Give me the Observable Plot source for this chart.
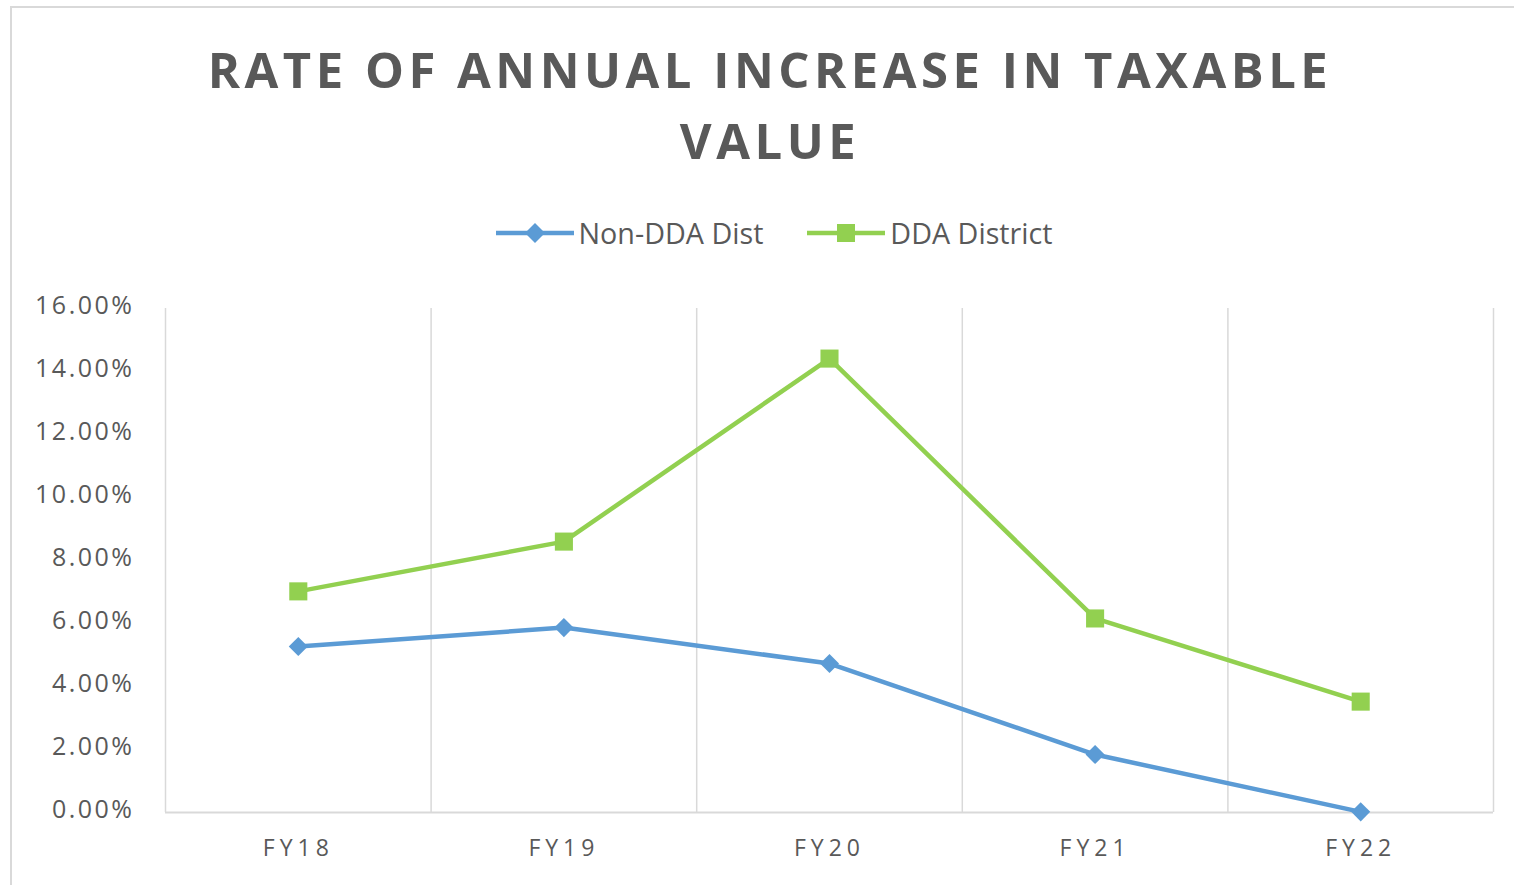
<!DOCTYPE html>
<html>
<head>
<meta charset="utf-8">
<script src="https://cdn.jsdelivr.net/npm/d3@7"></script>
<script src="https://cdn.jsdelivr.net/npm/@observablehq/plot@0.6"></script>
<style>
  html, body { margin: 0; padding: 0; background: #fff; }
  #wrap { position: relative; width: 1514px; height: 885px; overflow: hidden; background: #fff; font-family: "Open Sans", sans-serif; }
  #frame { position: absolute; left: 10px; top: 6px; width: 1520px; height: 900px; border: 2px solid #d9d9d9; box-sizing: border-box; }
  #title { position: absolute; left: 0; top: 34px; width: 1540px; text-align: center; font-weight: 700; font-size: 49px; line-height: 71px; letter-spacing: 4.5px; color: #595959; }
  #legend { position: absolute; top: 213px; left: 17px; width: 1514px; display: flex; justify-content: center; font-size: 28.7px; color: #595959; }
  .item { display: flex; align-items: center; margin: 0 22px; }
  .item svg { margin-right: 5px; }
  #chart { position: absolute; left: 0; top: 280px; }
  #chart svg { overflow: visible; }
  [aria-label="x-axis tick label"] text { letter-spacing: 5px; }
  [aria-label="y-axis tick label"] text { letter-spacing: 2.5px; }
</style>
</head>
<body>
<div id="wrap">
  <div id="frame"></div>
  <div id="title">RATE OF ANNUAL INCREASE IN TAXABLE<br>VALUE</div>
  <div id="legend"></div>
  <div id="chart"></div>
</div>
<script>
const categories = ["FY18", "FY19", "FY20", "FY21", "FY22"];
const seriesNames = ["Non-DDA Dist", "DDA District"];
const nonDDA = [5.27, 5.87, 4.73, 1.84, 0.02];
const dda = [7.02, 8.60, 14.41, 6.16, 3.52];
const yTicks = [0, 2, 4, 6, 8, 10, 12, 14, 16];
const colors = ["#5B9BD5", "#92D050"];
const symbols = ["diamond2", "square"];
const markerR = [8.6, 10.2];

const seriesData = [nonDDA, dda].map((vals, s) => vals.map((v, i) => ({series: seriesNames[s], i, cat: categories[i], value: v})));
const bounds = categories.map((_, i) => i - 0.5).concat([categories.length - 0.5]);

// legend
const legend = document.getElementById("legend");
seriesNames.forEach((name, s) => {
  const item = document.createElement("div");
  item.className = "item";
  const marker = s === 0
    ? `<path d="M39,0 L49,10 L39,20 L29,10 Z" fill="${colors[s]}"/>`
    : `<rect x="30" y="1" width="18" height="18" fill="${colors[s]}"/>`;
  item.innerHTML = `<svg width="78" height="20"><line x1="0" x2="78" y1="10" y2="10" stroke="${colors[s]}" stroke-width="4.5"/>${marker}</svg><span>${name}</span>`;
  legend.appendChild(item);
});

const seriesMarks = seriesData.flatMap((data, s) => [
  Plot.line(data, {x: "i", y: "value", stroke: colors[s], strokeWidth: 4.5}),
  Plot.dot(data, {x: "i", y: "value", symbol: symbols[s], fill: colors[s], r: markerR[s], stroke: "none"})
]);

const chart = Plot.plot({
  width: 1514,
  height: 605,
  marginLeft: 165,
  marginRight: 21,
  marginTop: 28,
  marginBottom: 73,
  style: {fontFamily: "Open Sans, sans-serif", fontSize: "24px", color: "#595959", background: "transparent"},
  x: {domain: [-0.5, categories.length - 0.5], axis: null},
  y: {domain: [0, 16], axis: null},
  marks: [
    Plot.ruleX(bounds, {x: d => d, y1: 0, y2: 16, stroke: "#d9d9d9", strokeWidth: 1.5}),
    Plot.ruleY([0], {stroke: "#d9d9d9", strokeWidth: 2}),
    Plot.axisY({ticks: yTicks, tickSize: 0, tickPadding: 31, dy: -3, tickFormat: d => d.toFixed(2) + "%", fontSize: 25, fill: "#595959", label: null}),
    Plot.axisX({ticks: categories.map((_, i) => i), tickSize: 0, tickPadding: 27, tickFormat: i => categories[i], fontSize: 23, fill: "#595959", label: null}),
    ...seriesMarks
  ]
});
document.getElementById("chart").appendChild(chart);
</script>
</body>
</html>
